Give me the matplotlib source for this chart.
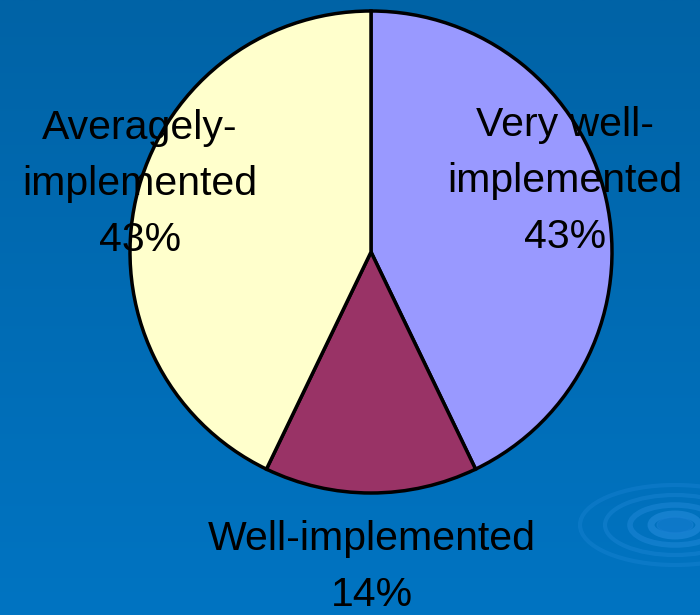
import numpy as np
import matplotlib
matplotlib.use("Agg")
import matplotlib.pyplot as plt
from matplotlib.patches import Ellipse

categories = ["Very well-\nimplemented", "Well-implemented", "Averagely-\nimplemented"]
counts = [3, 1, 3]
colors = ["#9999FF", "#993366", "#FFFFCC"]

plt.rcParams['font.family'] = ['Liberation Sans', 'DejaVu Sans']

W, H = 700, 615
fig = plt.figure(figsize=(7, 6.15), dpi=100)
ax = fig.add_axes([0, 0, 1, 1])

# slide background: vertical blue gradient, darker at top
grad = np.linspace(0, 1, 256).reshape(-1, 1)
top = np.array([0x00, 0x63, 0xA6]) / 255
bot = np.array([0x00, 0x74, 0xC2]) / 255
img = top + (bot - top) * grad[..., None]
ax.imshow(img, extent=[0, W, 0, H], aspect='auto', zorder=0, origin='upper')

# faint ripple decoration, bottom right
rc = (675, H - 525)
for w, h, lw, a in [(190, 80, 3, 0.25), (140, 60, 3, 0.3), (90, 40, 4, 0.4), (48, 22, 5, 0.5)]:
    ax.add_patch(Ellipse(rc, w, h, fill=False, edgecolor='#2a8fe0',
                         lw=lw, alpha=a, zorder=1))
ax.add_patch(Ellipse(rc, 36, 16, color='#1a80d4', alpha=0.5, zorder=1))

cx, cy, r = 371, H - 252, 241
wedges, _ = ax.pie(counts, colors=colors, startangle=90, counterclock=False,
                   center=(cx, cy), radius=r, frame=True,
                   wedgeprops=dict(edgecolor='black', linewidth=2.5))
for wd in wedges:
    wd.set_zorder(2)
ax.set_xlim(0, W)
ax.set_ylim(0, H)
ax.set_aspect('auto')
ax.axis('off')

total = sum(counts)
label_pos = [(565, H - 181), (372, H - 567), (140, H - 184)]
for name, c, (x, y) in zip(categories, counts, label_pos):
    ax.text(x, y, f"{name}\n{round(100 * c / total)}%", ha='center', va='center',
            fontsize=29.5, color='black', linespacing=1.6, zorder=3)

fig.savefig("out.png", dpi=100)
